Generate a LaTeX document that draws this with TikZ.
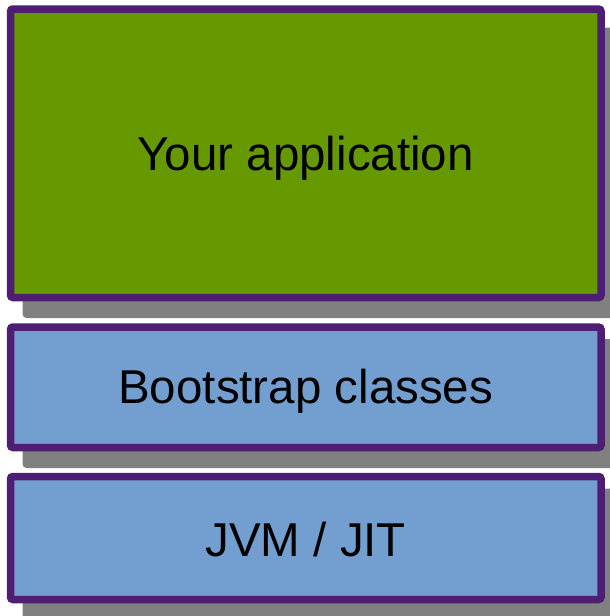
\documentclass[tikz,border=0pt]{standalone}
\usepackage{fontspec}
\setmainfont{Liberation Sans}
\definecolor{frame}{RGB}{78,30,116}
\definecolor{appgreen}{RGB}{102,153,0}
\definecolor{layerblue}{RGB}{114,159,207}
\definecolor{shade}{RGB}{128,128,128}
\begin{document}
\begin{tikzpicture}[x=1pt,y=-1pt,
  layer/.style={draw=frame, line width=7.5pt, rounded corners=2.5pt,
    rectangle, inner sep=0pt, outer sep=0pt, minimum width=590.5pt},
  label/.style={inner sep=0pt, font=\fontsize{47.5}{57}\selectfont, text=black},
  shadowbox/.style={fill=shade, rounded corners=4pt}]
  \useasboundingbox (0,0) rectangle (610,616);
  \clip (0,0) rectangle (610,616);
  % coordinates marking the layer centres
  \coordinate (appc) at (305.75,153.25);
  \coordinate (bootc) at (305.75,387.25);
  \coordinate (jvmc) at (305.75,538);
  % drop shadows behind each layer
  \fill[shadowbox] ([shift={(12,18.5)}]appc) ++(-295.25,-144.25) rectangle ++(596.75,288.5+2);
  \fill[shadowbox] ([shift={(12,12)}]bootc) ++(-295.25,-60.25) rectangle ++(596.75,120.5+8.5);
  \fill[shadowbox] ([shift={(12,12)}]jvmc) ++(-295.25,-61.5) rectangle ++(596.75,123+8.5);
  % layers, top to bottom
  \node[layer, fill=appgreen, minimum height=288.5pt] (app) at (appc) {};
  \node[layer, fill=layerblue, minimum height=120.5pt] (boot) at (bootc) {};
  \node[layer, fill=layerblue, minimum height=123pt] (jvm) at (jvmc) {};
  % layer captions
  \node[label] (apptext) at ([yshift=-5pt]app.center) {Your application};
  \node[label] (boottext) at ([yshift=-4pt]boot.center) {Bootstrap classes};
  \node[label] (jvmtext) at ([yshift=-2pt]jvm.center) {JVM / JIT};
\end{tikzpicture}
\end{document}
